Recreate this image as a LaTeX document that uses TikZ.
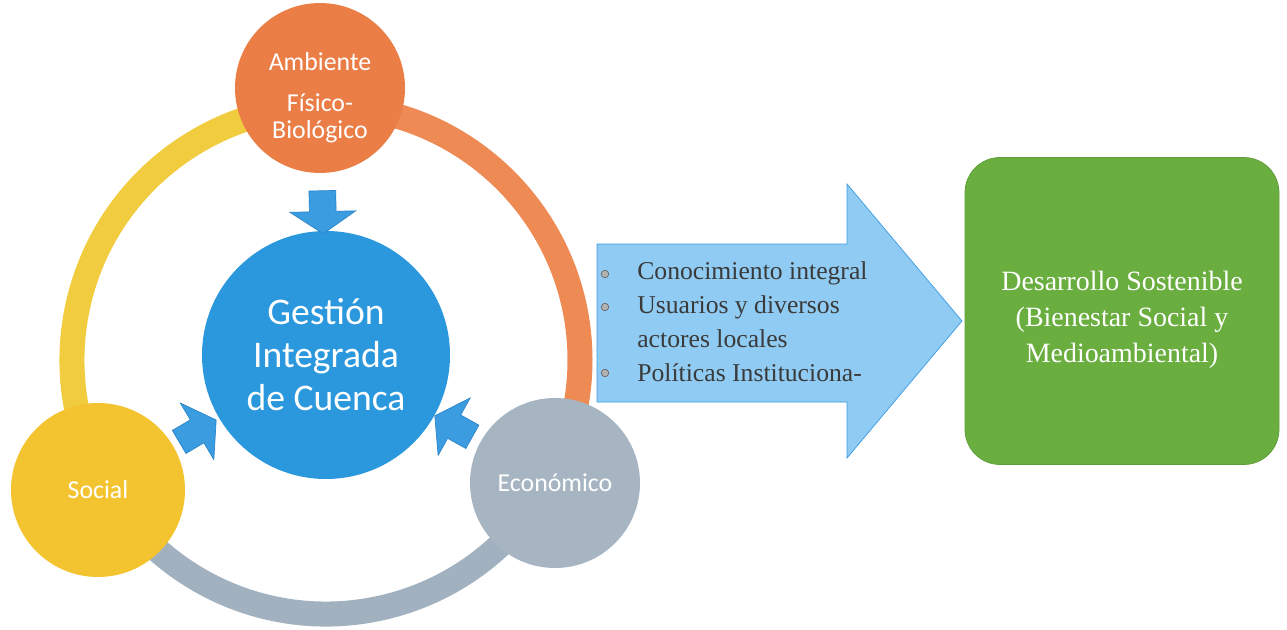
\documentclass[tikz,border=0pt]{standalone}
\usepackage{fontspec}
\setmainfont{Liberation Serif}
\newfontfamily\calibri{Carlito}
\usetikzlibrary{shapes.arrows}

\definecolor{naranja}{HTML}{EA7E46}
\definecolor{naranjaclaro}{HTML}{EE8B55}
\definecolor{amarillo}{HTML}{F4C430}
\definecolor{amarilloclaro}{HTML}{F2CC3F}
\definecolor{gris}{HTML}{A7B5C3}
\definecolor{grisclaro}{HTML}{A2B1C0}
\definecolor{azul}{HTML}{2B98DE}
\definecolor{flecha}{HTML}{3B9DE0}
\definecolor{flechaborde}{HTML}{2B84C8}
\definecolor{celeste}{HTML}{8FCBF2}
\definecolor{celesteborde}{HTML}{3C9BE3}
\definecolor{verde}{HTML}{6AAE40}
\definecolor{verdeborde}{HTML}{5E9E38}
\definecolor{texto}{HTML}{3A3A3A}

\begin{document}
\begin{tikzpicture}[x=0.2mm,y=-0.2mm]
    \tikzstyle{esfera}=[circle,inner sep=0pt,text=white,align=center,font=\calibri\fontsize{14.7}{15.4}\selectfont]
    \tikzstyle{anillo}=[line width=5mm]
    \tikzstyle{flechita}=[single arrow,draw=flechaborde,fill=flecha,thin,inner xsep=0pt,inner ysep=2.6mm,minimum height=8.6mm,single arrow head extend=3.9mm,single arrow tip angle=112,sloped,allow upside down]
    \tikzstyle{punto}=[circle,draw=gray!80!black,fill=gray!60,inner sep=0pt,minimum size=1.5mm]
    \useasboundingbox (0,0) rectangle (1287,630);
    % anillo
    \draw[anillo,draw=grisclaro] (326,360) ++(28:254) arc[start angle=28,end angle=150,radius=254];
    \draw[anillo,draw=amarilloclaro] (326,360) ++(150:254) arc[start angle=150,end angle=270,radius=254];
    \draw[anillo,draw=naranjaclaro] (326,360) ++(270:254) arc[start angle=270,end angle=388,radius=254];
    \node[esfera,fill=naranja,minimum size=34mm] (amb) at (320,88) {\rule{0pt}{7.6mm}Ambiente\\[2.8mm]Físico-\\Biológico};
    \node[esfera,fill=amarillo,minimum size=34.8mm] (soc) at (98,490) {Social};
    \node[esfera,fill=gris,minimum size=34mm] (eco) at (555,483) {Económico};
    \node[esfera,fill=azul,minimum size=49.6mm,font=\calibri\fontsize{21.4}{24.5}\selectfont] (gic) at (326,355) {Gestión\\Integrada\\de Cuenca};
    \path (amb) -- (gic) node[flechita,pos=0.6] (f1) {};
    \path (soc) -- (gic) node[flechita,pos=0.45] (f2) {};
    \path (eco) -- (gic) node[flechita,pos=0.5] (f3) {};
    % flecha grande
    \draw[draw=celesteborde,fill=celeste] (597,244) -- (847,244) -- (847,184) -- (962,321)
      -- (847,458) -- (847,402) -- (597,402) -- cycle;
    \node[anchor=west,align=left,inner sep=0pt,text=texto,font=\fontsize{14.6}{19.3}\selectfont] (lista) at (637,322)
      {Conocimiento integral\\Usuarios y diversos\\actores locales\\Políticas Instituciona-};
    \foreach \y in {274,307,373}
      \node[punto] (b\y) at (605,\y) {};
    \node[rounded corners=7mm,draw=verdeborde,fill=verde,minimum width=62.8mm,minimum height=61.4mm,
      align=center,text=white,font=\fontsize{15.9}{20.5}\selectfont] (ds) at (1122,311)
      {\rule{0pt}{7.4mm}Desarrollo Sostenible\\(Bienestar Social y\\Medioambiental)};
\end{tikzpicture}
\end{document}
